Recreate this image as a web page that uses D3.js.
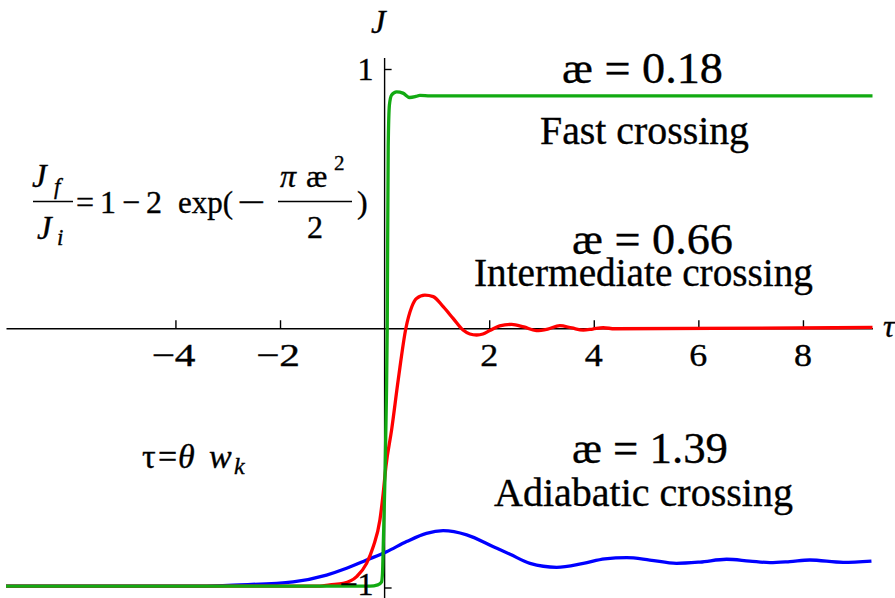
<!DOCTYPE html>
<html>
<head>
<meta charset="utf-8">
<script src="https://cdn.jsdelivr.net/npm/d3@7"></script>
<style>
  body { margin: 0; background: #fff; }
  svg { display: block; }
  text { font-family: "Liberation Serif", "DejaVu Serif", "Times New Roman", serif; fill: #000; stroke: #000; stroke-width: 0.35px; }
</style>
</head>
<body>
<svg id="chart" width="895" height="598"></svg>
<script>
// Axis ticks
const xTicks = [-4, -2, 2, 4, 6, 8];
const yTicks = [-1, 1];

// Fast crossing, æ = 0.18
const fastTau = [-7.24, -0.28, -0.13, -0.06, -0.04, -0.023, 0.006, 0.034, 0.05, 0.069, 0.092, 0.134, 0.23, 0.35, 0.48, 0.6, 0.675, 0.87, 9.33];
const fastJ   = [-0.995, -0.995, -0.99, -0.979, -0.944, -0.817, -0.585, -0.277, 0, 0.70, 0.861, 0.90, 0.912, 0.907, 0.89, 0.894, 0.898, 0.896, 0.896];

// Intermediate crossing, æ = 0.66
const interTau = [-7.24, -1.24, -1.05, -0.79, -0.535, -0.344, -0.218, -0.09, -0.027, 0.025, 0.134, 0.26, 0.407, 0.52, 0.61, 0.77, 0.93, 1.12, 1.31, 1.50, 1.63, 1.76, 1.88, 2.01, 2.2, 2.43, 2.66, 2.9, 3.12, 3.35, 3.58, 3.80, 3.98, 4.18, 4.4, 9.33];
const interJ   = [-0.995, -0.995, -0.99, -0.984, -0.958, -0.907, -0.843, -0.740, -0.637, -0.534, -0.392, -0.20, 0, 0.083, 0.115, 0.128, 0.122, 0.083, 0.038, -0.007, -0.022, -0.026, -0.022, -0.009, 0.009, 0.015, 0.005, -0.009, -0.003, 0.01, 0.001, -0.007, -0.003, 0.002, -0.002, 0.003];

// Adiabatic crossing, æ = 1.39
const adiTau = [-7.24, -3.53, -2.77, -1.75, -1.11, -0.727, -0.344, 0.038, 0.42, 0.80, 1.12, 1.57, 2.08, 2.40, 2.78, 3.29, 3.80, 4.21, 4.63, 5.07, 5.58, 6.03, 6.54, 6.98, 7.37, 7.75, 8.13, 8.77, 9.31];
const adiJ   = [-0.995, -0.995, -0.99, -0.978, -0.952, -0.926, -0.894, -0.862, -0.823, -0.791, -0.781, -0.797, -0.843, -0.872, -0.907, -0.922, -0.907, -0.89, -0.885, -0.894, -0.907, -0.902, -0.891, -0.898, -0.904, -0.9, -0.894, -0.903, -0.898];

const svg = d3.select("#chart");
const x = d3.scaleLinear().domain([-7.24, 9.33]).range([6, 872.5]);
const y = d3.scaleLinear().domain([-1, 1]).range([587.5, 69]);

const AX = 1.4;
const tickFont = 32;

// x axis line and ticks (ticks point upward)
const gx = svg.append("g")
  .attr("transform", `translate(0,${y(0)})`)
  .call(d3.axisBottom(x).tickValues(xTicks).tickSize(-8).tickSizeOuter(0));
gx.select(".domain").attr("stroke-width", AX);
gx.selectAll(".tick line").attr("stroke-width", AX);
gx.selectAll(".tick text").remove();

// y axis line and ticks (ticks point right)
const gy = svg.append("g")
  .attr("transform", `translate(${x(0)},0)`)
  .call(d3.axisLeft(y).tickValues(yTicks).tickSize(-7).tickSizeOuter(0));
gy.select(".domain").remove();
gy.selectAll(".tick line").attr("stroke-width", AX);
gy.selectAll(".tick text").remove();
gy.append("line")
  .attr("x1", 0).attr("x2", 0)
  .attr("y1", y(1.042)).attr("y2", y(-1.06))
  .attr("stroke", "#000").attr("stroke-width", AX);

// curves: adiabatic, intermediate, fast (fast drawn last, on top)
const line = d3.line().x(d => x(d[0])).y(d => y(d[1])).curve(d3.curveMonotoneX);
const series = [
  { tau: adiTau, J: adiJ, color: "#0000ff" },
  { tau: interTau, J: interJ, color: "#ff0000" },
  { tau: fastTau, J: fastJ, color: "#12aa12" }
];
series.forEach(s => {
  svg.append("path")
    .datum(s.tau.map((t, i) => [t, s.J[i]]))
    .attr("d", line)
    .attr("fill", "none")
    .attr("stroke", s.color)
    .attr("stroke-width", 3.3)
    .attr("stroke-linejoin", "round");
});

// tick labels
const fmt = d3.format("d");
svg.append("g").selectAll("text").data(xTicks).join("text")
  .attr("x", d => x(d) + (d < 0 ? -2 : 0))
  .attr("y", y(0) + 38)
  .attr("text-anchor", "middle")
  .attr("font-size", tickFont)
  .attr("textLength", d => d < 0 ? 44 : 18)
  .attr("lengthAdjust", "spacingAndGlyphs")
  .text(d => fmt(d));
svg.append("g").selectAll("text").data(yTicks).join("text")
  .attr("x", x(0) - 11)
  .attr("y", d => y(d) + (d > 0 ? 11 : 7))
  .attr("text-anchor", "end")
  .attr("font-size", tickFont)
  .text(d => fmt(d));

// axis names
svg.append("text").attr("x", 371).attr("y", 33).attr("font-size", 33)
  .attr("font-style", "italic").text("J");
svg.append("text").attr("x", 883).attr("y", 337).attr("font-size", 32)
  .attr("font-style", "italic").text("τ");

// helper for positioned text
function t(str, px, py, size, opts = {}) {
  const el = svg.append("text").attr("x", px).attr("y", py).attr("font-size", size).text(str);
  if (opts.italic) el.attr("font-style", "italic");
  if (opts.anchor) el.attr("text-anchor", opts.anchor);
  if (opts.len) el.attr("textLength", opts.len).attr("lengthAdjust", opts.adjust || "spacingAndGlyphs");
  return el;
}

// curve annotations
t("æ = 0.18", 562, 83, 44, { len: 161 });
t("Fast crossing", 540, 144, 39, { len: 209 });
t("æ = 0.66", 572, 254, 44, { len: 161 });
t("Intermediate crossing", 474, 286, 39, { len: 339 });
t("æ = 1.39", 572, 463, 44, { len: 156 });
t("Adiabatic crossing", 494, 506, 39, { len: 299 });

// J_f / J_i = 1 − 2 exp(−π æ² / 2)
t("J", 32, 187, 33, { italic: true });
t("f", 54, 194, 23, { italic: true });
svg.append("line").attr("x1", 33).attr("x2", 73).attr("y1", 201.5).attr("y2", 201.5)
  .attr("stroke", "#000").attr("stroke-width", 1.4);
t("J", 37, 239, 33, { italic: true });
t("i", 57, 245, 23, { italic: true });
t("=1−2", 76, 213, 32, { len: 86, adjust: "spacing" });
t("exp(", 178, 213, 32, { len: 55 });
t("−", 237, 213, 32, { len: 28 });
t("π", 280, 187, 32, { italic: true });
t("æ", 306, 187, 32);
t("2", 334, 170, 21);
svg.append("line").attr("x1", 278).attr("x2", 352).attr("y1", 201.5).attr("y2", 201.5)
  .attr("stroke", "#000").attr("stroke-width", 1.4);
t("2", 307, 238, 32);
t(")", 357, 213, 32);

// τ = θ w_k
t("τ", 142, 468, 34);
t("=", 158, 468, 34);
t("θ", 178, 468, 34, { italic: true });
t("w", 209, 468, 34, { italic: true });
t("k", 234, 474, 24, { italic: true });
</script>
</body>
</html>
